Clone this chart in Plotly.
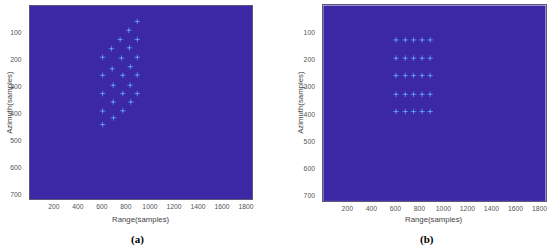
import plotly.graph_objects as go

# (a) target positions (range, azimuth in samples)
range_a = [895, 824, 752, 895, 680, 829, 606, 763, 895, 686, 837, 606, 774,
           895, 694, 835, 606, 774, 895, 694, 841, 606, 774, 697, 606]
azimuth_a = [58, 91, 125, 125, 159, 156, 191, 194, 191, 234, 226, 258, 258,
             257, 295, 295, 326, 326, 326, 357, 357, 391, 390, 416, 441]

# (b) regular 5 x 5 grid
range_b = [605, 683, 752, 823, 890]
azimuth_b = [127, 194, 258, 327, 390]

x_ticks = [200, 400, 600, 800, 1000, 1200, 1400, 1600, 1800]
y_ticks = [100, 200, 300, 400, 500, 600, 700]
panel_labels = ['(a)', '(b)']

bg = 'rgb(60,40,165)'
pt_color = 'rgb(80,125,235)'

fig = go.Figure()

pts_b_x = [r for a in azimuth_b for r in range_b]
pts_b_y = [a for a in azimuth_b for r in range_b]

for i, (xs, ys) in enumerate([(range_a, azimuth_a), (pts_b_x, pts_b_y)]):
    ax = '' if i == 0 else '2'
    fig.add_trace(go.Scatter(
        x=xs, y=ys, mode='markers', xaxis='x' + ax, yaxis='y' + ax,
        marker=dict(symbol='cross-thin', size=4,
                    line=dict(color=pt_color, width=1)),
        showlegend=False, hoverinfo='skip'))
    fig.add_trace(go.Scatter(
        x=xs, y=ys, mode='markers', xaxis='x' + ax, yaxis='y' + ax,
        marker=dict(symbol='square', size=1.5, color='rgb(120,175,255)',
                    line=dict(width=0)),
        showlegend=False, hoverinfo='skip'))

axis_font = dict(family='Liberation Sans, Arial, sans-serif', size=6.8, color='#555555')
common_x = dict(range=[0.5, 1850.5], tickvals=x_ticks, showgrid=False, zeroline=False,
                showline=True, mirror=True, linecolor='rgb(90,90,120)', linewidth=1,
                ticks='', tickfont=axis_font, ticklabelstandoff=1)
common_y = dict(range=[718.5, 0.5], tickvals=y_ticks, showgrid=False, zeroline=False,
                showline=True, mirror=True, linecolor='rgb(90,90,120)', linewidth=1,
                ticks='', tickfont=axis_font, ticklabelstandoff=6)

fig.update_layout(
    width=550, height=249,
    margin=dict(l=0, r=0, t=0, b=0),
    paper_bgcolor='white', plot_bgcolor=bg,
    xaxis=dict(domain=[0.0545, 0.46], anchor='y', **common_x),
    yaxis=dict(domain=[0.2, 0.976], anchor='x', **common_y),
    xaxis2=dict(domain=[0.59, 0.9955], anchor='y2', **common_x),
    yaxis2=dict(domain=[0.193, 0.978], anchor='x2', **common_y),
)

title_font = dict(family='Liberation Sans, Arial, sans-serif', size=7.8, color='#444444')
for xc, xl in [(0.257, 0.016), (0.7925, 0.547)]:
    fig.add_annotation(text='Range(samples)', xref='paper', yref='paper',
                       x=xc, y=0.118, showarrow=False, font=title_font,
                       xanchor='center', yanchor='middle')
    fig.add_annotation(text='Azimuth(samples)', xref='paper', yref='paper',
                       x=xl, y=0.59, showarrow=False, font=title_font, textangle=-90,
                       xanchor='center', yanchor='middle')

for xc, lab in zip([0.25, 0.779], panel_labels):
    fig.add_annotation(text='<b>%s</b>' % lab, xref='paper', yref='paper',
                       x=xc, y=0.04, showarrow=False,
                       font=dict(family='Liberation Serif, Times New Roman, serif',
                                 size=11, color='black'),
                       xanchor='center', yanchor='middle')

fig.write_html("out.html", config={'displayModeBar': False},
               post_script="document.body.style.margin='0';")
